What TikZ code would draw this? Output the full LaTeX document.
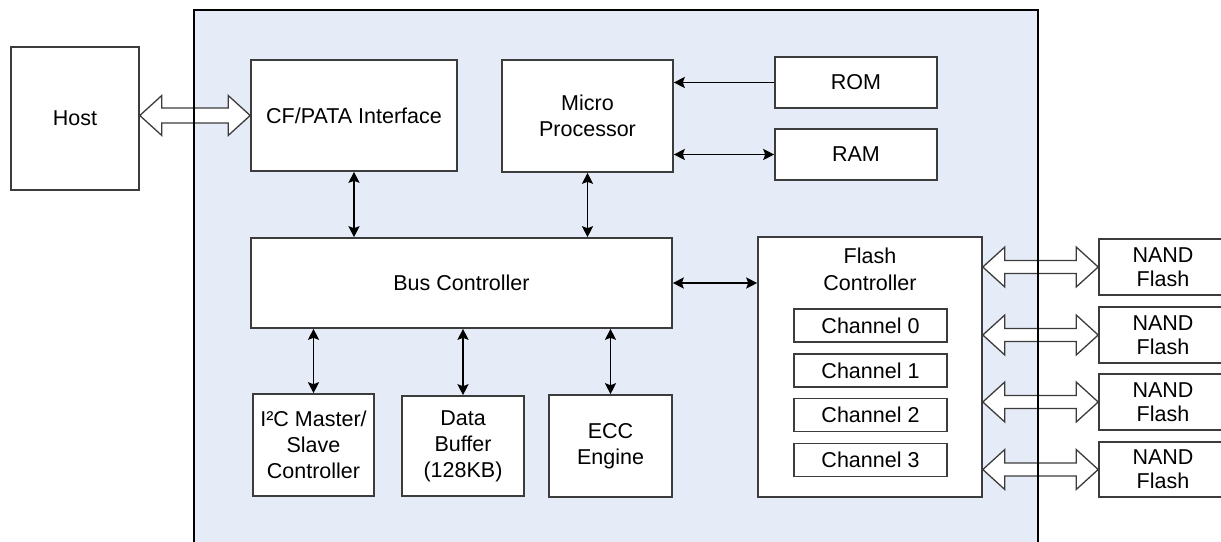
\documentclass[tikz,border=0pt]{standalone}
\usepackage{fontspec}
\setmainfont{Liberation Sans}
\usetikzlibrary{arrows.meta,calc}
\definecolor{chipfill}{RGB}{230,236,247}
\definecolor{boxline}{RGB}{60,60,60}
\tikzset{
  blk/.style={draw=boxline, line width=1.6pt, fill=white, align=center, inner sep=0pt,
              font=\fontsize{21.5}{26}\selectfont},
  conn/.style={line width=1.6pt, black},
  biarrow/.style={conn, {Stealth[length=11pt,width=11pt,inset=2pt]}-{Stealth[length=11pt,width=11pt,inset=2pt]}},
  uniarrow/.style={conn, -{Stealth[length=11pt,width=11pt,inset=2pt]}},
  hollow/.style={draw=boxline, line width=1.3pt, fill=white, line join=miter},
}
\newcommand{\hollowarrow}[4]{% from x-node, to x-node, y from node, shaft half width
  \draw[hollow] let \p1=(#1), \p2=(#2), \p3=(#3) in
    (\x1,\y3) -- (\x1+22pt,\y3+20pt) -- (\x1+22pt,\y3+#4) -- (\x2-22pt,\y3+#4)
    -- (\x2-22pt,\y3+20pt) -- (\x2,\y3) -- (\x2-22pt,\y3-20pt) -- (\x2-22pt,\y3-#4)
    -- (\x1+22pt,\y3-#4) -- (\x1+22pt,\y3-20pt) -- cycle;
}
\begin{document}
\begin{tikzpicture}[x=1pt,y=-1pt]
\useasboundingbox (0,0) rectangle (1221,541);
\clip (0,0) rectangle (1221,541);
% chip background
\coordinate (chipnw) at (194,10);
\coordinate (chipse) at (1038,600);
\fill[chipfill] (chipnw) rectangle (chipse);

% nodes
\node[blk, minimum width=128, minimum height=143] (host) at (75,118.5) {Host};
\node[blk, minimum width=206, minimum height=111] (cf) at (354,115.5) {CF/PATA Interface};
\node[blk, minimum width=171, minimum height=112] (mp) at (587.5,116) {Micro\\Processor};
\node[blk, minimum width=162, minimum height=51] (rom) at (856,82.5) {ROM};
\node[blk, minimum width=162, minimum height=51] (ram) at (856,154.5) {RAM};
\node[blk, minimum width=421, minimum height=90] (bus) at (461.5,283) {Bus Controller};
\node[blk, minimum width=224, minimum height=260,
      label={[align=center, anchor=north, yshift=-8pt, font=\fontsize{21.5}{27}\selectfont]north:Flash\\Controller}]
      (flash) at (870,367) {};
\node[blk, minimum width=153, minimum height=33] (ch0) at (870.5,325.5) {Channel 0};
\node[blk, minimum width=153, minimum height=33] (ch1) at (870.5,370.5) {Channel 1};
\node[blk, minimum width=153, minimum height=33] (ch2) at (870.5,415) {Channel 2};
\node[blk, minimum width=153, minimum height=33] (ch3) at (870.5,460) {Channel 3};
\node[blk, minimum width=121, minimum height=102] (i2c) at (313.5,445) {I²C Master/\\Slave\\Controller};
\node[blk, minimum width=122, minimum height=100] (dbuf) at (463,446) {Data\\Buffer\\(128KB)};
\node[blk, minimum width=123, minimum height=102] (ecc) at (610.5,446) {ECC\\Engine};
\node[blk, minimum width=128, minimum height=56, font=\fontsize{21.5}{24}\selectfont] (n1) at (1163,267) {NAND\\Flash};
\node[blk, minimum width=128, minimum height=56, font=\fontsize{21.5}{24}\selectfont] (n2) at (1163,335) {NAND\\Flash};
\node[blk, minimum width=128, minimum height=56, font=\fontsize{21.5}{24}\selectfont] (n3) at (1163,402) {NAND\\Flash};
\node[blk, minimum width=128, minimum height=55, font=\fontsize{21.5}{24}\selectfont] (n4) at (1163,469.5) {NAND\\Flash};

% hollow bus arrows
\hollowarrow{host.east}{cf.west}{cf.west}{7.5pt}
\hollowarrow{flash.east}{n1.west}{n1.west}{6.5pt}
\hollowarrow{flash.east}{n2.west}{n2.west}{6.5pt}
\hollowarrow{flash.east}{n3.west}{n3.west}{6.5pt}
\hollowarrow{flash.east}{n4.west}{n4.west}{6.5pt}

% chip border on top
\draw[line width=2.6pt, black] (chipnw) rectangle (chipse);

% connectors
\draw[biarrow] (cf.south) -- (cf.south |- bus.north);
\draw[biarrow] (mp.south) -- (mp.south |- bus.north);
\draw[uniarrow] (rom.west) -- (rom.west -| mp.east);
\draw[biarrow] (ram.west -| mp.east) -- (ram.west);
\draw[biarrow] (bus.east) -- (bus.east -| flash.west);
\draw[biarrow] (i2c.north |- bus.south) -- (i2c.north);
\draw[biarrow] (dbuf.north |- bus.south) -- (dbuf.north);
\draw[biarrow] (ecc.north |- bus.south) -- (ecc.north);
\end{tikzpicture}
\end{document}
